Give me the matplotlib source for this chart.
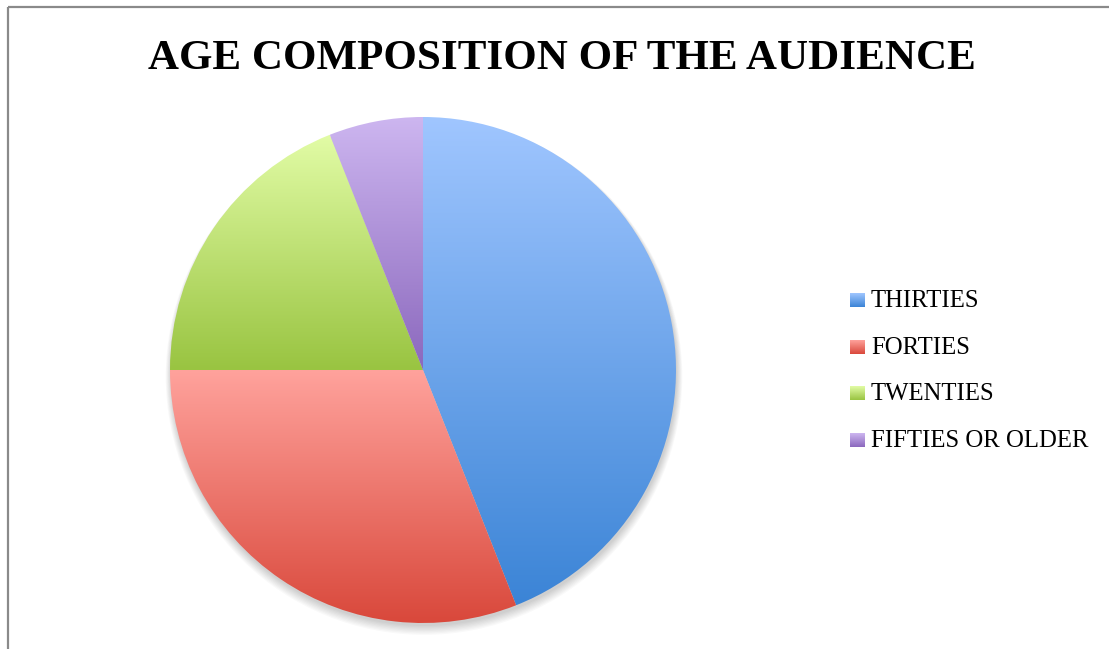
import numpy as np
import matplotlib
matplotlib.use("Agg")
import matplotlib.pyplot as plt
from matplotlib.colors import to_rgb
from matplotlib.patches import Circle

# data
labels = ["THIRTIES", "FORTIES", "TWENTIES", "FIFTIES OR OLDER"]
shares = [44, 31, 19, 6]
# gradient colours (top, bottom) for each slice
top_colors = ["#a0c6ff", "#ffa29c", "#e2fca6", "#cdb6f0"]
bottom_colors = ["#3b84d6", "#d9483b", "#99c441", "#8b68bd"]
title = "AGE COMPOSITION OF THE AUDIENCE"

W, H = 1109, 649
fig = plt.figure(figsize=(W / 100, H / 100), dpi=100)


def grad(c_top, c_bot, n=256):
    t = np.linspace(0, 1, n)[:, None]
    a = np.array(to_rgb(c_top))
    b = np.array(to_rgb(c_bot))
    return (a * (1 - t) + b * t)[:, None, :]


# overlay in pixel coordinates for frame, title and legend
bg = fig.add_axes([0, 0, 1, 1])
bg.set_xlim(0, W)
bg.set_ylim(H, 0)
bg.axis("off")
bg.plot([8, W], [7, 7], color="#8a8a8a", lw=1.6, solid_capstyle="butt")
bg.plot([8, 8], [7, H], color="#8a8a8a", lw=1.6, solid_capstyle="butt")
bg.text(562, 59, title, ha="center", va="center", fontsize=31,
        fontweight="bold", family="Liberation Serif")

row_y = [300, 347, 393, 440]
for lab, ct, cb, y in zip(labels, top_colors, bottom_colors, row_y):
    bg.imshow(grad(ct, cb), extent=[850, 865, y + 7, y - 7], aspect="auto",
              interpolation="bilinear", zorder=2)
    bg.text(871, y + 1, lab, ha="left", va="center", fontsize=17.8,
            family="Liberation Serif")
bg.set_xlim(0, W)
bg.set_ylim(H, 0)

# pie
cx, cy, r = 423, 370, 253
pad = 1.1
ax = fig.add_axes([(cx - pad * r) / W, (H - cy - pad * r) / H,
                   2 * pad * r / W, 2 * pad * r / H])
ax.axis("off")

# soft shadow under the pie
for k in range(8):
    ax.add_patch(Circle((0.004, -0.012 - 0.002 * k), 1.0 + 0.003 * k,
                        color="black", alpha=0.025, lw=0, zorder=0))

wedges, _ = ax.pie(shares, startangle=90, counterclock=False, radius=1,
                   wedgeprops=dict(linewidth=0))
for w, ct, cb in zip(wedges, top_colors, bottom_colors):
    w.set_facecolor("none")
    w.set_edgecolor("none")
    ext = w.get_path().get_extents()
    im = ax.imshow(grad(ct, cb), extent=[ext.x0, ext.x1, ext.y0, ext.y1],
                   aspect="auto", interpolation="bilinear", zorder=1)
    im.set_clip_path(w)
ax.set_xlim(-pad, pad)
ax.set_ylim(-pad, pad)

fig.savefig("out.png", dpi=100)
